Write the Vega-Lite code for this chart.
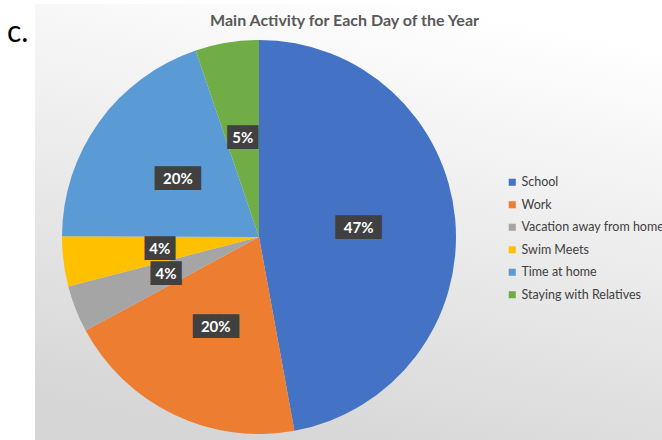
{
  "$schema": "https://vega.github.io/schema/vega-lite/v6.json",
  "width": 627,
  "height": 436,
  "autosize": {"type": "none"},
  "padding": {"left": 35, "top": 4, "right": 0, "bottom": 0},
  "background": "#ffffff",
  "config": {"view": {"stroke": null}},
  "title": {
    "text": "Main Activity for Each Day of the Year",
    "font": "Lato",
    "fontSize": 16,
    "fontWeight": "bold",
    "color": "#595959",
    "anchor": "middle",
    "baseline": "top",
    "offset": -25,
    "dx": -4
  },
  "data": {
    "values": [
      {"idx": 1, "activity": "School", "days": 172, "label": "47%"},
      {"idx": 2, "activity": "Work", "days": 73, "label": "20%"},
      {"idx": 3, "activity": "Vacation away from home", "days": 14, "label": "4%"},
      {"idx": 4, "activity": "Swim Meets", "days": 15, "label": "4%"},
      {"idx": 5, "activity": "Time at home", "days": 72, "label": "20%"},
      {"idx": 6, "activity": "Staying with Relatives", "days": 19, "label": "5%"}
    ]
  },
  "layer": [
    {
      "data": {"values": [{"bg": 1}]},
      "mark": {
        "type": "rect",
        "color": {
          "gradient": "linear",
          "x1": 0.65, "y1": 0, "x2": 0.35, "y2": 1,
          "stops": [
            {"offset": 0, "color": "#ffffff"},
            {"offset": 1, "color": "#d6d6d6"}
          ]
        }
      },
      "encoding": {}
    },
    {
      "mark": {"type": "arc", "outerRadius": 197, "stroke": null},
      "encoding": {
        "x": {"value": 224},
        "y": {"value": 233},
        "theta": {"field": "days", "type": "quantitative", "stack": true},
        "order": {"field": "idx", "type": "quantitative"},
        "color": {
          "field": "activity",
          "type": "nominal",
          "sort": ["School", "Work", "Vacation away from home", "Swim Meets", "Time at home", "Staying with Relatives"],
          "scale": {
            "domain": ["School", "Work", "Vacation away from home", "Swim Meets", "Time at home", "Staying with Relatives"],
            "range": ["#4472C4", "#ED7D31", "#A5A5A5", "#FFC000", "#5B9BD5", "#70AD47"]
          },
          "legend": {
            "orient": "none",
            "legendX": 471,
            "legendY": 172,
            "title": null,
            "symbolType": "square",
            "symbolSize": 50,
            "symbolStrokeWidth": 0,
            "labelFont": "Lato",
            "labelFontSize": 12.5,
            "labelColor": "#404040",
            "labelOffset": 3,
            "rowPadding": 9.5,
            "labelLimit": 300
          }
        }
      }
    },
    {
      "transform": [{"calculate": "length(datum.label) > 2 ? '███' : '██'", "as": "box"}],
      "mark": {"type": "text", "radius": 100, "font": "DejaVu Sans", "fontSize": 20, "color": "#404040", "baseline": "middle", "align": "center"},
      "encoding": {
        "x": {"value": 224},
        "y": {"value": 233},
        "theta": {"field": "days", "type": "quantitative", "stack": true},
        "order": {"field": "idx", "type": "quantitative"},
        "text": {"field": "box"}
      }
    },
    {
      "mark": {"type": "text", "radius": 100, "font": "Lato", "fontSize": 15, "fontWeight": "bold", "color": "#ffffff", "baseline": "middle", "align": "center"},
      "encoding": {
        "x": {"value": 224},
        "y": {"value": 233},
        "theta": {"field": "days", "type": "quantitative", "stack": true},
        "order": {"field": "idx", "type": "quantitative"},
        "text": {"field": "label"}
      }
    },
    {
      "data": {"values": [{"t": "c."}]},
      "mark": {"type": "text", "font": "Lato", "fontSize": 30, "color": "#000000", "align": "left", "baseline": "middle"},
      "encoding": {
        "x": {"value": -28},
        "y": {"value": 29},
        "text": {"field": "t"}
      }
    }
  ]
}
